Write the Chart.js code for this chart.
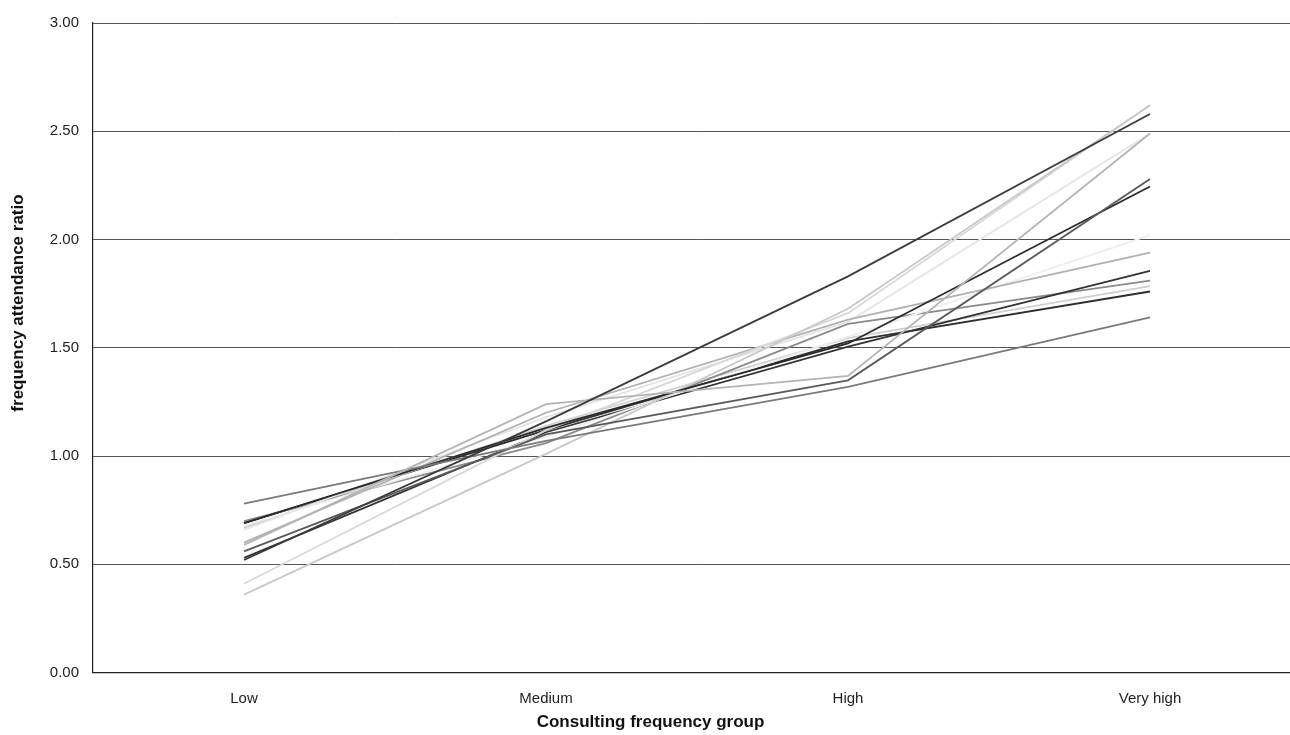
<!DOCTYPE html>
<html>
<head>
<meta charset="utf-8">
<script src="https://cdn.jsdelivr.net/npm/chart.js@4/dist/chart.umd.min.js"></script>
<style>
  html, body { margin: 0; padding: 0; background: #fff; overflow: hidden; }
  #wrap { width: 1302px; height: 735px; position: relative; }
</style>
</head>
<body>
<div id="wrap"><canvas id="c" width="1302" height="735"></canvas></div>
<script>
const categories = ["Low", "Medium", "High", "Very high"];
const yTicks = [0, 0.5, 1, 1.5, 2, 2.5, 3];
const xTitle = "Consulting frequency group";
const yTitle = "frequency attendance ratio";

const seriesA = [0.52, 1.16, 1.83, 2.58];
const seriesB = [0.59, 1.24, 1.37, 2.49];
const seriesC = [0.78, 1.07, 1.32, 1.64];
const seriesD = [0.56, 1.10, 1.35, 2.28];
const seriesE = [0.69, 1.13, 1.52, 2.245];
const seriesF = [0.36, 1.01, 1.68, 2.62];
const seriesG = [0.41, 1.12, 1.66, 2.62];
const seriesH = [0.60, 1.20, 1.63, 1.94];
const seriesI = [0.66, 1.18, 1.62, 2.49];
const seriesJ = [0.68, 1.09, 1.55, 2.02];
const seriesK = [0.53, 1.11, 1.505, 1.855];
const seriesL = [0.70, 1.06, 1.61, 1.81];
const seriesM = [0.67, 1.14, 1.545, 1.785];
const seriesN = [0.69, 1.12, 1.53, 1.76];

const seriesList = [seriesA, seriesB, seriesC, seriesD, seriesE, seriesF, seriesG,
                    seriesH, seriesI, seriesJ, seriesK, seriesL, seriesM, seriesN];
const seriesColors = ["#3c3c3c", "#b4b4b4", "#7a7a7a", "#5a5a5a", "#2a2a2a", "#c8c8c8", "#d8d8d8",
                      "#b0b0b0", "#e4e4e4", "#eeeeee", "#333333", "#8a8a8a", "#cfcfcf", "#2e2e2e"];

const FONT = "'Liberation Sans', Arial, sans-serif";

const datasets = seriesList.map((d, i) => ({
  label: "Series " + (i + 1),
  data: d,
  borderColor: seriesColors[i],
  backgroundColor: seriesColors[i],
  borderWidth: 1.8,
  pointRadius: 0,
  tension: 0,
  fill: false
}));

const yTitlePlugin = {
  id: "yTitlePlugin",
  afterDraw(chart) {
    const ctx = chart.ctx;
    ctx.save();
    ctx.translate(18, 303);
    ctx.rotate(-Math.PI / 2);
    ctx.font = "bold 17px " + FONT;
    ctx.fillStyle = "#111";
    ctx.textAlign = "center";
    ctx.textBaseline = "middle";
    ctx.fillText(yTitle, 0, 0);
    ctx.restore();
  }
};

new Chart(document.getElementById("c"), {
  type: "line",
  data: { labels: categories, datasets },
  plugins: [yTitlePlugin],
  options: {
    responsive: false,
    animation: false,
    layout: { padding: { top: 23, right: 1, left: 0, bottom: 0 } },
    plugins: {
      legend: { display: false },
      tooltip: { enabled: false },
      title: {
        display: true,
        position: "bottom",
        text: xTitle,
        color: "#111",
        font: { family: FONT, size: 17, weight: "bold" },
        padding: { top: 0, bottom: 2 }
      }
    },
    scales: {
      x: {
        type: "category",
        offset: true,
        grid: { display: false, drawTicks: false },
        border: { display: true, color: "#222", width: 1.2 },
        ticks: {
          color: "#222",
          padding: 17,
          font: { family: FONT, size: 15 }
        },
        afterFit: s => { s.height = 40; }
      },
      y: {
        min: 0,
        max: 3,
        afterBuildTicks: s => { s.ticks = yTicks.map(v => ({ value: v })); },
        grid: { color: "#555", lineWidth: 1, drawTicks: false },
        border: { display: true, color: "#222", width: 1.2 },
        ticks: {
          color: "#222",
          padding: 14,
          font: { family: FONT, size: 15 },
          callback: v => Number(v).toFixed(2)
        },
        afterFit: s => { s.width = 93; }
      }
    }
  }
});
</script>
</body>
</html>
